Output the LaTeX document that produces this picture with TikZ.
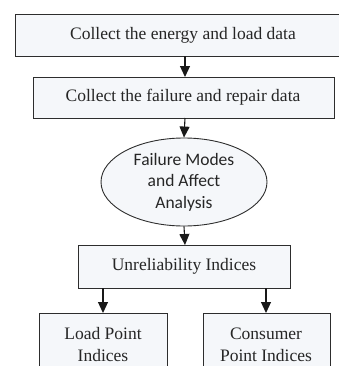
\documentclass[tikz,border=0pt]{standalone}
\usepackage{fontspec}
\setmainfont{Liberation Serif}
\newfontfamily\calfont{Carlito}
\usetikzlibrary{shapes.geometric,arrows.meta}
\definecolor{boxbg}{RGB}{245,247,250}
\definecolor{boxline}{RGB}{45,45,45}
\begin{document}
\begin{tikzpicture}[x=1pt,y=-1pt,
  stepbox/.style={draw=boxline, line width=0.9pt, fill=boxbg},
  conn/.style={draw=black!90, line width=1.1pt, -{Triangle[length=11pt,width=10pt]}},
  txt/.style={font=\fontsize{17.5}{22}\selectfont, align=center, text=black!85},
  ctxt/.style={font=\calfont\fontsize{17.5}{21.5}\selectfont, align=center, text=black!85}]
\useasboundingbox (0,0) rectangle (339,367);
\clip (0,0) rectangle (339,365);
% boxes
\draw[stepbox] (15,14) rectangle (345,56);
\node[txt] (b1) at (183,35) {Collect the energy and load data};
\coordinate (b1s) at (185,56);
\draw[stepbox] (33,77) rectangle (334,118);
\node[txt] (b2) at (183,97.5) {Collect the failure and repair data};
\coordinate (b2n) at (185,77);
\coordinate (b2s) at (185,118);
\node[draw=boxline, line width=0.9pt, fill=boxbg, ellipse, minimum width=166pt, minimum height=88pt, inner sep=0pt] (e) at (184,182) {};
\node[ctxt] (et) at (184,182) {Failure Modes\\and Affect\\Analysis};
\draw[stepbox] (78,245) rectangle (290,288);
\node[txt] (b3) at (184,266) {Unreliability Indices};
\coordinate (b3l) at (103,288);
\coordinate (b3r) at (266,288);
\draw[stepbox] (39,313) rectangle (167,380);
\node[txt] (b4) at (103,345) {Load Point\\Indices};
\coordinate (b4n) at (103,313);
\draw[stepbox] (203,313) rectangle (330,380);
\node[txt] (b5) at (266,345) {Consumer\\Point Indices};
\coordinate (b5n) at (266,313);
\coordinate (b3n) at (185,245);
% connectors
\draw[conn] (b1s) -- (b2n);
\draw[conn] (b2s) -- (e.north);
\draw[conn] (e.south) -- (b3n);
\draw[conn] (b3l) -- (b4n);
\draw[conn] (b3r) -- (b5n);
\end{tikzpicture}
\end{document}
